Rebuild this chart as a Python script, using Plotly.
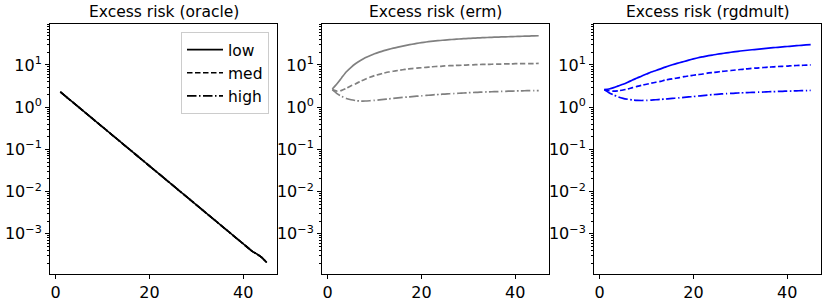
import plotly.graph_objects as go

steps = list(range(1, 46))

oracle = [2.30, 1.86, 1.51, 1.22, 0.985, 0.796, 0.644, 0.521, 0.421, 0.340,
          0.275, 0.223, 0.180, 0.146, 0.118, 0.0953, 0.0771, 0.0623, 0.0504, 0.0407,
          0.0330, 0.0267, 0.0216, 0.0174, 0.0141, 0.0114, 0.00922, 0.00746, 0.00603, 0.00488,
          0.00394, 0.00319, 0.00258, 0.00209, 0.00169, 0.00136, 0.00110, 0.000893, 0.000722, 0.000583,
          0.000472, 0.00038, 0.00033, 0.000275, 0.00021]

erm_low = [2.7, 3.6, 5.0, 6.9, 8.8, 10.8, 12.8, 14.8, 16.6, 18.4,
           20.1, 21.8, 23.4, 25.0, 26.5, 28.0, 29.5, 31.0, 32.4, 33.8,
           35.0, 36.1, 37.1, 38.0, 38.9, 39.7, 40.5, 41.2, 41.9, 42.5,
           43.1, 43.7, 44.2, 44.7, 45.2, 45.6, 46.0, 46.4, 46.8, 47.2,
           47.6, 48.0, 48.4, 48.8, 49.2]
erm_med = [2.6, 2.4, 2.5, 2.8, 3.2, 3.6, 4.1, 4.6, 5.1, 5.6,
           6.0, 6.4, 6.8, 7.1, 7.4, 7.7, 8.0, 8.2, 8.4, 8.6,
           8.8, 9.0, 9.2, 9.3, 9.5, 9.6, 9.7, 9.8, 9.9, 10.0,
           10.1, 10.2, 10.3, 10.3, 10.4, 10.5, 10.5, 10.6, 10.6, 10.7,
           10.7, 10.8, 10.8, 10.8, 10.9]
erm_high = [2.6, 2.1, 1.8, 1.6, 1.5, 1.43, 1.40, 1.40, 1.42, 1.45,
            1.49, 1.53, 1.57, 1.61, 1.66, 1.70, 1.74, 1.78, 1.82, 1.86,
            1.90, 1.94, 1.98, 2.01, 2.05, 2.08, 2.11, 2.14, 2.17, 2.20,
            2.23, 2.25, 2.28, 2.30, 2.32, 2.34, 2.36, 2.38, 2.40, 2.42,
            2.43, 2.45, 2.46, 2.47, 2.48]

rgd_low = [2.6, 2.7, 2.9, 3.2, 3.5, 3.9, 4.4, 4.9, 5.5, 6.1,
           6.8, 7.4, 8.1, 8.9, 9.7, 10.5, 11.3, 12.1, 13.0, 13.9,
           14.8, 15.6, 16.4, 17.1, 17.9, 18.6, 19.3, 20.0, 20.7, 21.4,
           22.0, 22.6, 23.2, 23.8, 24.4, 25.0, 25.6, 26.2, 26.8, 27.4,
           28.0, 28.6, 29.2, 29.8, 30.4]
rgd_med = [2.6, 2.45, 2.4, 2.45, 2.55, 2.7, 2.9, 3.1, 3.3, 3.5,
           3.7, 3.9, 4.1, 4.4, 4.6, 4.8, 5.0, 5.3, 5.5, 5.7,
           5.9, 6.1, 6.4, 6.6, 6.8, 7.0, 7.2, 7.4, 7.6, 7.8,
           8.0, 8.2, 8.4, 8.5, 8.7, 8.9, 9.0, 9.2, 9.3, 9.4,
           9.6, 9.7, 9.8, 9.9, 10.0]
rgd_high = [2.6, 2.2, 1.95, 1.75, 1.62, 1.54, 1.48, 1.45, 1.44, 1.45,
            1.47, 1.50, 1.53, 1.56, 1.60, 1.63, 1.67, 1.71, 1.75, 1.79,
            1.84, 1.88, 1.93, 1.98, 2.02, 2.06, 2.09, 2.12, 2.15, 2.18,
            2.21, 2.23, 2.25, 2.27, 2.29, 2.32, 2.34, 2.36, 2.38, 2.40,
            2.42, 2.44, 2.46, 2.47, 2.49]

titles = ["Excess risk (oracle)", "Excess risk (erm)", "Excess risk (rgdmult)"]
levels = ["low", "med", "high"]
x_ticks = [0, 20, 40]
y_ticks = [1e-3, 1e-2, 1e-1, 1e0, 1e1]
y_ticktext = ["10<sup>\u22123</sup>", "10<sup>\u22122</sup>", "10<sup>\u22121</sup>",
              "10<sup>0</sup>", "10<sup>1</sup>"]

W, H = 830, 303
FONT = "DejaVu Sans"
dashes = {"low": "solid", "med": "5.5px,2.5px", "high": "9.5px,2.5px,1.5px,2.5px"}

panels = [
    ("black", {"low": oracle, "med": oracle, "high": oracle}),
    ("#808080", {"low": erm_low, "med": erm_med, "high": erm_high}),
    ("#0000ff", {"low": rgd_low, "med": rgd_med, "high": rgd_high}),
]

fig = go.Figure()
lefts = [50, 322, 594]
pw = 227
top, bottom = 24, 274

minor_vals = []
for e in range(-4, 2):
    for m in range(2, 10):
        minor_vals.append(m * 10 ** e)

for i, (color, series) in enumerate(panels):
    ax = "" if i == 0 else str(i + 1)
    for lev in levels:
        fig.add_trace(go.Scatter(
            x=steps, y=series[lev], mode="lines", name=lev,
            line=dict(color=color, width=1.7, dash=dashes[lev],
                      shape="linear" if i == 0 else "spline", smoothing=0.6),
            xaxis="x" + ax, yaxis="y" + ax, showlegend=(i == 0),
            legendgroup=lev,
        ))
    dom_x = [lefts[i] / W, (lefts[i] + pw) / W]
    dom_y = [(H - bottom) / H, (H - top) / H]
    fig.layout["xaxis" + ax] = dict(
        domain=dom_x, range=[-1.2, 47.2], tickvals=x_ticks,
        ticks="outside", ticklen=4, tickcolor="black", showline=True,
        linecolor="black", linewidth=1, mirror=True, showgrid=False, zeroline=False,
        tickfont=dict(family=FONT, size=16, color="black"), anchor="y" + ax,
    )
    fig.layout["yaxis" + ax] = dict(
        domain=dom_y, type="log", range=[-3.95, 1.97], tickvals=y_ticks,
        ticktext=y_ticktext, ticks="outside", ticklen=4, tickcolor="black",
        showline=True, linecolor="black", linewidth=1, mirror=True, showgrid=False,
        zeroline=False, tickfont=dict(family=FONT, size=16, color="black"),
        anchor="x" + ax,
        minor=dict(tickmode="array", tickvals=minor_vals, ticks="outside",
                   ticklen=2, tickcolor="black", showgrid=False),
    )
    fig.add_annotation(
        x=(lefts[i] + pw / 2) / W, y=(H - 12) / H, xref="paper", yref="paper",
        text=titles[i], showarrow=False, xanchor="center", yanchor="middle",
        font=dict(family=FONT, size=15.5, color="black"),
    )

fig.update_layout(
    width=W, height=H, margin=dict(l=0, r=0, t=0, b=0),
    paper_bgcolor="white", plot_bgcolor="white",
    font=dict(family=FONT, size=15, color="black"),
    legend=dict(x=269 / W, y=(H - 32) / H, xanchor="right", yanchor="top",
                bgcolor="white", bordercolor="#cccccc", borderwidth=1,
                font=dict(family=FONT, size=15.5, color="black"),
                tracegroupgap=0, itemwidth=36),
)

fig.write_html("out.html", config={"displayModeBar": False},
               post_script="document.body.style.margin='0';")
